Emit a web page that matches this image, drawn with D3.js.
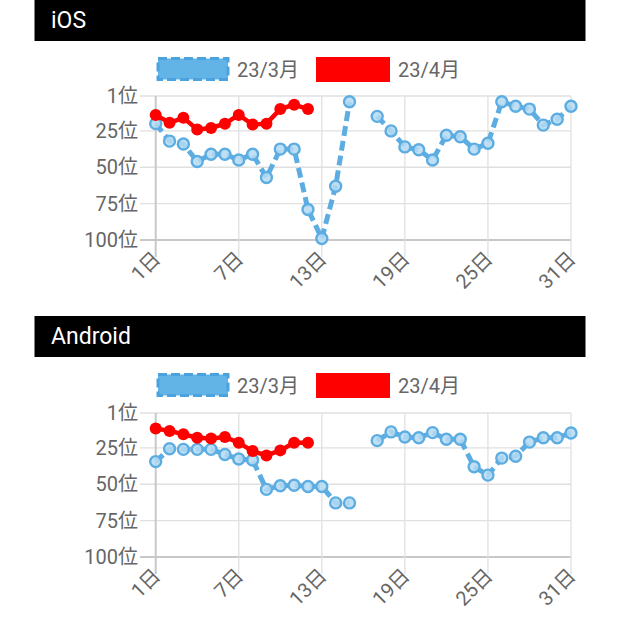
<!DOCTYPE html>
<html><head><meta charset="utf-8">
<script src="https://cdn.jsdelivr.net/npm/d3@7"></script>
<style>body{margin:0;background:#fff}svg{display:block}text{font-family:Roboto,"Noto Sans CJK JP",sans-serif}</style>
</head><body><svg id="c" width="620" height="623"></svg>
<script>
const days = d3.range(1, 32);
const xTickDays = [1, 7, 13, 19, 25, 31];
const yTicks = [1, 25, 50, 75, 100];
const seriesNames = ["23/3月", "23/4月"];
const panelTitles = ["iOS", "Android"];
const iosMarch = [20,32,34,46,41,41,45,41,57,37.5,37.5,79,99,63,5,null,15,25,36,38,45,28,29,37.5,33.5,5,8,10,21,17,8];
const iosApril = [14,19.4,16,24,23,20,14,20.6,20,10,7,10];
const androidMarch = [34.4,25.6,26,26,26,29.5,32.6,33.3,53.5,51,50.7,51.5,51.5,62.8,62.8,null,20,14,17.5,18,14.5,19,19,38,43.7,32,30.7,21,18,18,14.7];
const androidApril = [11.6,13.3,15.6,18,18.6,17.5,21.4,27.2,30.2,26.7,21.4,21.4];

const blue = "#5dade2", red = "#ff0000";
const svg = d3.select("#c");
const panels = [
  {title: panelTitles[0], top: 0, march: iosMarch, april: iosApril, y0: 96, y1: 240},
  {title: panelTitles[1], top: 316, march: androidMarch, april: androidApril, y0: 413, y1: 557}
];
const x = d3.scaleLinear().domain([1, 31]).range([155.7, 571]);

panels.forEach(p => {
  const g = svg.append("g");
  g.append("rect").attr("x", 34.5).attr("y", p.top).attr("width", 551).attr("height", 41).attr("fill", "#000");
  g.append("text").attr("x", 51).attr("y", p.top + 28).attr("fill", "#fff").attr("font-size", 23).text(p.title);

  // legend
  const ly = p.top + 57;
  g.append("rect").attr("x", 158).attr("y", ly + 1.5).attr("width", 70).attr("height", 21)
    .attr("fill", "#62b3e6").attr("stroke", "#4aa3df").attr("stroke-width", 3).attr("stroke-dasharray", "9,4");
  g.append("text").attr("x", 237).attr("y", ly + 19.5).attr("fill", "#666").attr("font-size", 20).text(seriesNames[0]);
  g.append("rect").attr("x", 316).attr("y", ly).attr("width", 74).attr("height", 25).attr("fill", red);
  g.append("text").attr("x", 398).attr("y", ly + 19.5).attr("fill", "#666").attr("font-size", 20).text(seriesNames[1]);

  const y = d3.scaleLinear().domain([1, 100]).range([p.y0, p.y1]);

  // grid
  const grid = g.append("g");
  yTicks.forEach(t => {
    grid.append("line").attr("x1", 140).attr("x2", x(31)).attr("y1", y(t)).attr("y2", y(t))
      .attr("stroke", t === 100 ? "#c8c8c8" : "#e0e0e0").attr("stroke-width", t === 100 ? 2 : 1.3);
    grid.append("text").attr("x", 138).attr("y", y(t)).attr("dy", "0.36em").attr("text-anchor", "end")
      .attr("fill", "#666").attr("font-size", 20).text(t + "位");
  });
  xTickDays.forEach(d => {
    grid.append("line").attr("x1", x(d)).attr("x2", x(d)).attr("y1", p.y0).attr("y2", p.y1 + 17)
      .attr("stroke", d === 1 ? "#c8c8c8" : "#e0e0e0").attr("stroke-width", d === 1 ? 2 : 1.3);
    grid.append("text").attr("text-anchor", "end").attr("fill", "#666").attr("font-size", 20)
      .attr("transform", `translate(${x(d) + 6},${p.y1 + 20}) rotate(-45)`).text(d + "日");
  });

  const line = d3.line().defined(d => d[1] != null).x(d => x(d[0])).y(d => y(d[1]));
  const m = days.map((d, i) => [d, p.march[i]]);
  const a = p.april.map((v, i) => [i + 1, v]);

  g.append("path").datum(m).attr("d", line).attr("fill", "none").attr("stroke", blue)
    .attr("stroke-width", 5).attr("stroke-dasharray", "10,5");
  g.selectAll(".pm").data(m.filter(d => d[1] != null)).join("circle")
    .attr("cx", d => x(d[0])).attr("cy", d => y(d[1])).attr("r", 5.5)
    .attr("fill", "rgba(180,218,242,0.85)").attr("stroke", blue).attr("stroke-width", 2.4);

  g.append("path").datum(a).attr("d", line).attr("fill", "none").attr("stroke", red).attr("stroke-width", 4.5);
  g.selectAll(".pa").data(a).join("circle")
    .attr("cx", d => x(d[0])).attr("cy", d => y(d[1])).attr("r", 6).attr("fill", red);
});
</script></body></html>
